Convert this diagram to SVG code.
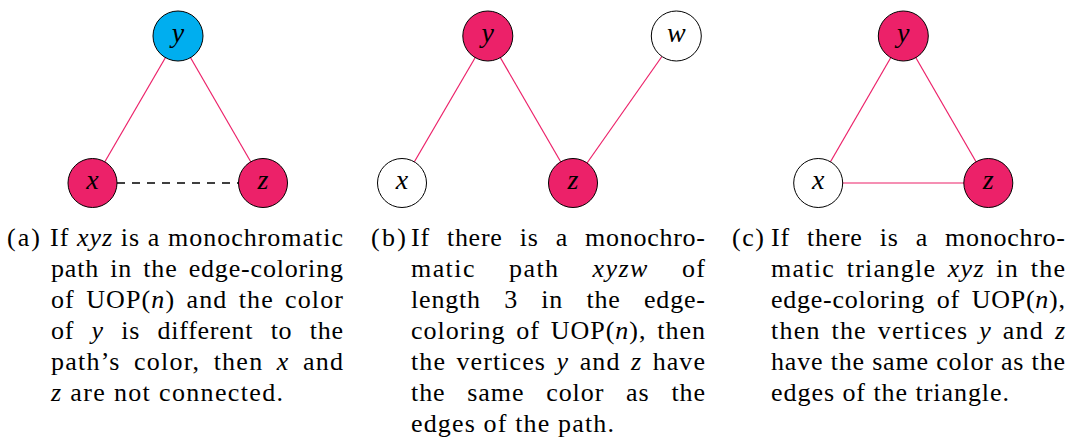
<svg xmlns="http://www.w3.org/2000/svg" width="1075" height="441" viewBox="0 0 1075 441">
<style>
.edge{stroke:#EC2169;stroke-width:1.2;fill:none}
.dash{stroke:#000;stroke-width:1.3;stroke-dasharray:8 7;fill:none}
.node{stroke:#000;stroke-width:1}
.pink{fill:#EC2169}
.cyan{fill:#00AEEF}
.white{fill:#fff}
.nl{font-style:italic;text-anchor:middle;fill:#000}
.m{font-style:italic}
</style>
<rect width="1075" height="441" fill="#fff"/>
<g id="connectors">
<line class="edge" x1="178" y1="36" x2="92.5" y2="183"/>
<line class="edge" x1="178" y1="36" x2="263" y2="183"/>
<line class="dash" x1="117" y1="183" x2="239" y2="183"/>
<line class="edge" x1="487.8" y1="36" x2="402" y2="183"/>
<line class="edge" x1="487.8" y1="36" x2="573" y2="183"/>
<line class="edge" x1="676.3" y1="36" x2="573" y2="183"/>
<line class="edge" x1="903.3" y1="36" x2="818.2" y2="183"/>
<line class="edge" x1="903.3" y1="36" x2="988.3" y2="183"/>
<line class="edge" x1="818.2" y1="183" x2="988.3" y2="183"/>
</g>
<g id="a-y"><circle class="node cyan" cx="178" cy="36" r="25"/><text class="nl" font-family="Liberation Serif" font-size="28" x="178" y="42">y</text></g>
<g id="a-x"><circle class="node pink" cx="92.5" cy="183" r="24.5"/><text class="nl" font-family="Liberation Serif" font-size="28" x="92.5" y="189">x</text></g>
<g id="a-z"><circle class="node pink" cx="263" cy="183" r="24.5"/><text class="nl" font-family="Liberation Serif" font-size="28" x="263" y="189">z</text></g>
<g id="b-y"><circle class="node pink" cx="487.8" cy="36" r="25"/><text class="nl" font-family="Liberation Serif" font-size="28" x="487.8" y="42">y</text></g>
<g id="b-w"><circle class="node white" cx="676.3" cy="36" r="25"/><text class="nl" font-family="Liberation Serif" font-size="28" x="676.3" y="42">w</text></g>
<g id="b-x"><circle class="node white" cx="402" cy="183" r="24.5"/><text class="nl" font-family="Liberation Serif" font-size="28" x="402" y="189">x</text></g>
<g id="b-z"><circle class="node pink" cx="573" cy="183" r="24.5"/><text class="nl" font-family="Liberation Serif" font-size="28" x="573" y="189">z</text></g>
<g id="c-y"><circle class="node pink" cx="903.3" cy="36" r="25"/><text class="nl" font-family="Liberation Serif" font-size="28" x="903.3" y="42">y</text></g>
<g id="c-x"><circle class="node white" cx="818.2" cy="183" r="24.5"/><text class="nl" font-family="Liberation Serif" font-size="28" x="818.2" y="189">x</text></g>
<g id="c-z"><circle class="node pink" cx="988.3" cy="183" r="24.5"/><text class="nl" font-family="Liberation Serif" font-size="28" x="988.3" y="189">z</text></g>
<g id="caption-a">
<text font-family="Liberation Serif" font-size="26" x="7" y="246" textLength="33" lengthAdjust="spacing">(a)</text>
<text font-family="Liberation Serif" font-size="26" x="50" y="246" textLength="293" lengthAdjust="spacing" word-spacing="0.2">If <tspan class="m">xyz</tspan> is a monochromatic</text>
<text font-family="Liberation Serif" font-size="26" x="51" y="277" textLength="292" lengthAdjust="spacing" word-spacing="3.8">path in the edge-coloring</text>
<text font-family="Liberation Serif" font-size="26" x="51" y="308" textLength="292" lengthAdjust="spacing" word-spacing="3.6">of UOP(<tspan class="m">n</tspan>) and the color</text>
<text font-family="Liberation Serif" font-size="26" x="51" y="339" textLength="292" lengthAdjust="spacing" word-spacing="10.2">of <tspan class="m">y</tspan> is different to the</text>
<text font-family="Liberation Serif" font-size="26" x="51" y="370" textLength="292" lengthAdjust="spacing" word-spacing="5.7">path’s color, then <tspan class="m">x</tspan> and</text>
<text font-family="Liberation Serif" font-size="26" x="51" y="401" textLength="232" lengthAdjust="spacing"><tspan class="m">z</tspan> are not connected.</text>
</g>
<g id="caption-b">
<text font-family="Liberation Serif" font-size="26" x="371" y="246" textLength="35" lengthAdjust="spacing">(b)</text>
<text font-family="Liberation Serif" font-size="26" x="411" y="246" textLength="294" lengthAdjust="spacing" word-spacing="9.9">If there is a monochro-</text>
<text font-family="Liberation Serif" font-size="26" x="411" y="277" textLength="294" lengthAdjust="spacing" word-spacing="25.2">matic path <tspan class="m">xyzw</tspan> of</text>
<text font-family="Liberation Serif" font-size="26" x="411" y="308" textLength="294" lengthAdjust="spacing" word-spacing="16">length 3 in the edge-</text>
<text font-family="Liberation Serif" font-size="26" x="411" y="339" textLength="294" lengthAdjust="spacing" word-spacing="3.3">coloring of UOP(<tspan class="m">n</tspan>), then</text>
<text font-family="Liberation Serif" font-size="26" x="411" y="370" textLength="294" lengthAdjust="spacing" word-spacing="2.9">the vertices <tspan class="m">y</tspan> and <tspan class="m">z</tspan> have</text>
<text font-family="Liberation Serif" font-size="26" x="411" y="401" textLength="294" lengthAdjust="spacing" word-spacing="14.4">the same color as the</text>
<text font-family="Liberation Serif" font-size="26" x="411" y="432" textLength="203" lengthAdjust="spacing">edges of the path.</text>
</g>
<g id="caption-c">
<text font-family="Liberation Serif" font-size="26" x="732" y="246" textLength="32" lengthAdjust="spacing">(c)</text>
<text font-family="Liberation Serif" font-size="26" x="771" y="246" textLength="294" lengthAdjust="spacing" word-spacing="9.9">If there is a monochro-</text>
<text font-family="Liberation Serif" font-size="26" x="771" y="277" textLength="294" lengthAdjust="spacing" word-spacing="3.8">matic triangle <tspan class="m">xyz</tspan> in the</text>
<text font-family="Liberation Serif" font-size="26" x="771" y="308" textLength="294" lengthAdjust="spacing" word-spacing="4.6">edge-coloring of UOP(<tspan class="m">n</tspan>),</text>
<text font-family="Liberation Serif" font-size="26" x="771" y="339" textLength="294" lengthAdjust="spacing" word-spacing="3.2">then the vertices <tspan class="m">y</tspan> and <tspan class="m">z</tspan></text>
<text font-family="Liberation Serif" font-size="26" x="771" y="370" textLength="294" lengthAdjust="spacing" word-spacing="0">have the same color as the</text>
<text font-family="Liberation Serif" font-size="26" x="771" y="401" textLength="238" lengthAdjust="spacing">edges of the triangle.</text>
</g>
</svg>
